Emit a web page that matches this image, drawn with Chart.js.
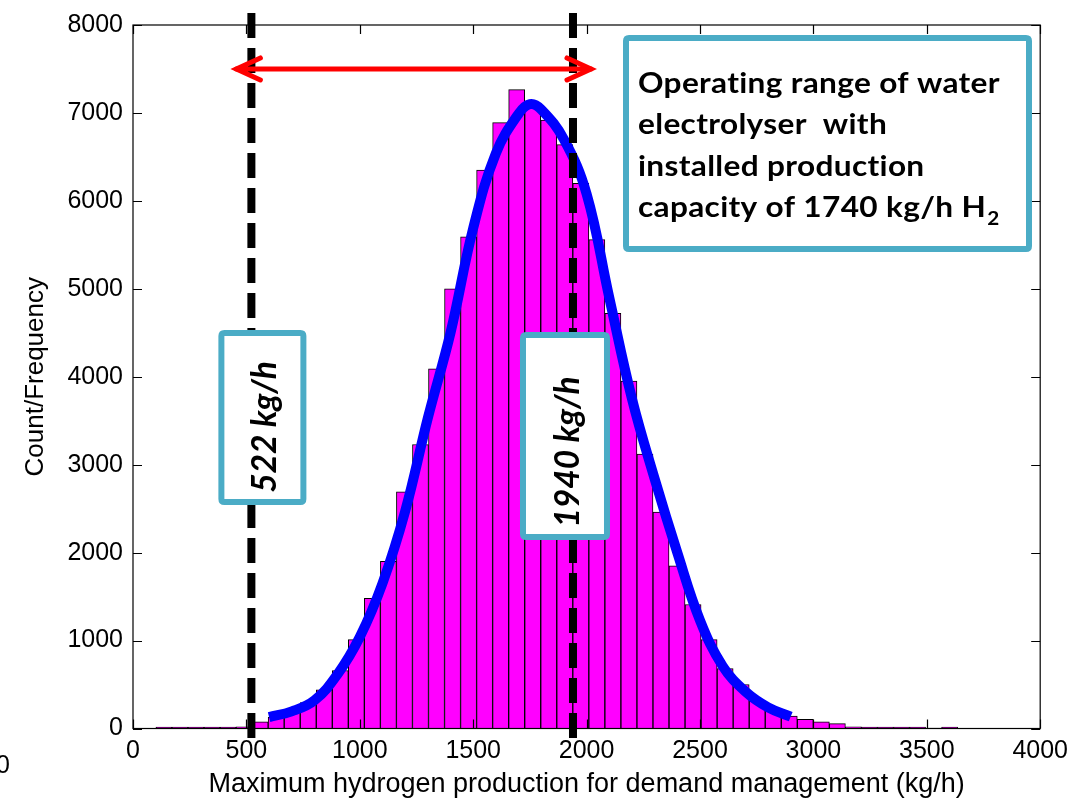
<!DOCTYPE html>
<html>
<head>
<meta charset="utf-8">
<script src="https://cdn.jsdelivr.net/npm/chart.js@4.4.1/dist/chart.umd.min.js"></script>
<style>
  html, body { margin: 0; padding: 0; background: #fff; }
  #wrap { position: relative; width: 1076px; height: 801px; }
</style>
</head>
<body>
<div id="wrap"><canvas id="c" width="1076" height="801"></canvas></div>
<script>
// Histogram bins (kg/h): 50 bins of equal width starting at binStart
const binStart = 101;
const binWidth = 70.7;
const binCounts = [
  15, 15, 15, 15, 15, 20, 75, 130, 200, 295,
  440, 660, 1010, 1480, 1900, 2690, 3230, 4090, 5000, 5590,
  6350, 6890, 7265, 7080, 6920, 6640, 6200, 5560, 4720, 3950,
  3120, 2460, 1850, 1410, 1010, 680, 500, 315, 215, 140,
  105, 75, 55, 20, 15, 15, 15, 15, 5, 15
];

// Fitted distribution curve
const curveX = [600, 700, 800, 900, 1000, 1100, 1200, 1300, 1400, 1500, 1600, 1700,
                1750, 1800, 1900, 2000, 2100, 2200, 2300, 2400, 2500, 2600, 2700, 2800, 2900];
const curveY = [130, 195, 320, 610, 1040, 1650, 2470, 3530, 4500, 5690, 6540, 6990,
                7100, 7040, 6700, 6080, 4900, 3750, 2840, 2000, 1230, 710, 420, 240, 135];

// Operating range limits (kg/h)
const rangeLow = 522;
const rangeHigh = 1940;
const rangeLabels = ['522 kg/h', '1940 kg/h'];

// Axis ticks
const xTicks = [0, 500, 1000, 1500, 2000, 2500, 3000, 3500, 4000];
const yTicks = [0, 1000, 2000, 3000, 4000, 5000, 6000, 7000, 8000];

const xTitle = 'Maximum hydrogen production for demand management (kg/h)';
const yTitle = 'Count/Frequency';
const noteLines = ['Operating range of water', 'electrolyser  with', 'installed production', 'capacity of 1740 kg/h H'];
const noteSub = '2';

const barData = binCounts.map((v, i) => ({ x: binStart + binWidth * (i + 0.5), y: v }));
const curveData = curveX.map((x, i) => ({ x: x, y: curveY[i] }));

const TEAL = '#4BACC6';

function roundRect(ctx, x, y, w, h, r) {
  ctx.beginPath();
  ctx.moveTo(x + r, y);
  ctx.lineTo(x + w - r, y);
  ctx.quadraticCurveTo(x + w, y, x + w, y + r);
  ctx.lineTo(x + w, y + h - r);
  ctx.quadraticCurveTo(x + w, y + h, x + w - r, y + h);
  ctx.lineTo(x + r, y + h);
  ctx.quadraticCurveTo(x, y + h, x, y + h - r);
  ctx.lineTo(x, y + r);
  ctx.quadraticCurveTo(x, y, x + r, y);
  ctx.closePath();
}

function labelBox(ctx, cx, top, w, h, text, textY) {
  ctx.save();
  roundRect(ctx, cx - w / 2, top, w, h, 3);
  ctx.fillStyle = '#fff';
  ctx.fill();
  ctx.lineWidth = 6;
  ctx.strokeStyle = TEAL;
  ctx.stroke();
  ctx.translate(cx + 3, textY);
  ctx.rotate(-Math.PI / 2);
  ctx.fillStyle = '#000';
  ctx.font = 'italic bold 33.5px Lato';
  ctx.textAlign = 'center';
  ctx.textBaseline = 'middle';
  ctx.fillText(text, 0, 0);
  ctx.restore();
}

const overlay = {
  id: 'overlay',
  afterDatasetsDraw(chart) {
    const ctx = chart.ctx;
    const xs = chart.scales.x, ys = chart.scales.y;
    const a = chart.chartArea;

    // frame with inward ticks on all four sides
    ctx.save();
    ctx.strokeStyle = '#000';
    ctx.lineWidth = 1.2;
    ctx.strokeRect(a.left, a.top, a.right - a.left, a.bottom - a.top);
    ctx.beginPath();
    const tl = 9;
    xTicks.forEach(v => {
      const px = Math.round(xs.getPixelForValue(v)) + 0.5;
      ctx.moveTo(px, a.bottom); ctx.lineTo(px, a.bottom - tl);
      ctx.moveTo(px, a.top); ctx.lineTo(px, a.top + tl);
    });
    yTicks.forEach(v => {
      const py = Math.round(ys.getPixelForValue(v)) + 0.5;
      ctx.moveTo(a.left, py); ctx.lineTo(a.left + tl, py);
      ctx.moveTo(a.right, py); ctx.lineTo(a.right - tl, py);
    });
    ctx.stroke();
    ctx.restore();

    const xL = xs.getPixelForValue(rangeLow);
    const xH = xs.getPixelForValue(rangeHigh);

    // dashed limit lines
    ctx.save();
    ctx.strokeStyle = '#000';
    ctx.lineWidth = 8;
    ctx.setLineDash([25, 10]);
    [xL, xH].forEach(px => {
      ctx.beginPath();
      ctx.moveTo(px, 13);
      ctx.lineTo(px, 738);
      ctx.stroke();
    });
    ctx.restore();

    // double-headed range arrow
    const ay = ys.getPixelForValue(7500);
    const x1 = xL - 15, x2 = xH + 18;
    ctx.save();
    ctx.strokeStyle = '#ff0000';
    ctx.lineWidth = 5;
    ctx.lineCap = 'round';
    ctx.lineJoin = 'miter';
    ctx.beginPath();
    ctx.moveTo(x1, ay); ctx.lineTo(x2, ay);
    ctx.stroke();
    ctx.beginPath();
    ctx.moveTo(x1 + 24, ay - 11); ctx.lineTo(x1, ay); ctx.lineTo(x1 + 24, ay + 11);
    ctx.moveTo(x2 - 24, ay - 11); ctx.lineTo(x2, ay); ctx.lineTo(x2 - 24, ay + 11);
    ctx.stroke();
    ctx.restore();

    // value boxes on the limit lines
    labelBox(ctx, xL + 11, 333, 82, 169, rangeLabels[0], 427);
    labelBox(ctx, xH - 8, 335, 84, 202, rangeLabels[1], 452);

    // description box
    ctx.save();
    roundRect(ctx, 626, 38, 403, 211, 3);
    ctx.fillStyle = '#fff';
    ctx.fill();
    ctx.lineWidth = 6;
    ctx.strokeStyle = TEAL;
    ctx.stroke();
    ctx.fillStyle = '#000';
    ctx.textAlign = 'left';
    ctx.textBaseline = 'alphabetic';
    if ('letterSpacing' in ctx) ctx.letterSpacing = '0.3px';
    const baselines = [92.5, 134, 175.5, 217];
    ctx.translate(638, 0);
    ctx.scale(1.09, 1);
    ctx.font = 'bold 29px Lato';
    noteLines.forEach((t, i) => ctx.fillText(t, 0, baselines[i]));
    const w = ctx.measureText(noteLines[3]).width;
    ctx.font = 'bold 19px Lato';
    ctx.fillText(noteSub, w + 1, 225);
    ctx.restore();

    // stray zero at the lower left
    ctx.save();
    ctx.fillStyle = '#000';
    ctx.font = '25px "Liberation Sans"';
    ctx.textAlign = 'left';
    ctx.textBaseline = 'middle';
    ctx.fillText('0', -4, 766);
    ctx.restore();
  }
};

new Chart(document.getElementById('c'), {
  type: 'bar',
  data: {
    datasets: [
      {
        type: 'line',
        data: curveData,
        borderColor: '#0000ff',
        borderWidth: 10,
        pointRadius: 0,
        tension: 0.4,
        fill: false,
        order: 0
      },
      {
        type: 'bar',
        data: barData,
        backgroundColor: '#ff00ff',
        borderColor: '#000',
        borderWidth: 1,
        barPercentage: 1,
        categoryPercentage: 1,
        order: 1
      }
    ]
  },
  options: {
    responsive: false,
    animation: false,
    events: [],
    layout: { padding: { left: 0, right: 30, top: 19.5, bottom: 0 } },
    plugins: { legend: { display: false }, tooltip: { enabled: false }, title: { display: false } },
    scales: {
      x: {
        type: 'linear',
        min: 0, max: 4000,
        offset: false,
        afterBuildTicks: s => { s.ticks = xTicks.map(v => ({ value: v })); },
        afterFit: s => { s.height = 72.5; },
        grid: { display: false, drawTicks: false },
        border: { display: false },
        ticks: { color: '#000', font: { family: 'Liberation Sans', size: 25 }, padding: 8, maxRotation: 0,
                 callback: v => String(v) },
        title: { display: true, text: xTitle, color: '#000', font: { family: 'Liberation Sans', size: 27 }, padding: { top: 0, bottom: 0 } }
      },
      y: {
        type: 'linear',
        min: 0, max: 8000,
        afterBuildTicks: s => { s.ticks = yTicks.map(v => ({ value: v })); },
        afterFit: s => { s.width = 133; },
        grid: { display: false, drawTicks: false },
        border: { display: false },
        ticks: { color: '#000', font: { family: 'Liberation Sans', size: 25 }, padding: 10,
                 callback: v => String(v) },
        title: { display: true, text: yTitle, color: '#000', font: { family: 'Liberation Sans', size: 26 }, padding: { top: 20, bottom: 0 } }
      }
    }
  },
  plugins: [overlay]
});
</script>
</body>
</html>
